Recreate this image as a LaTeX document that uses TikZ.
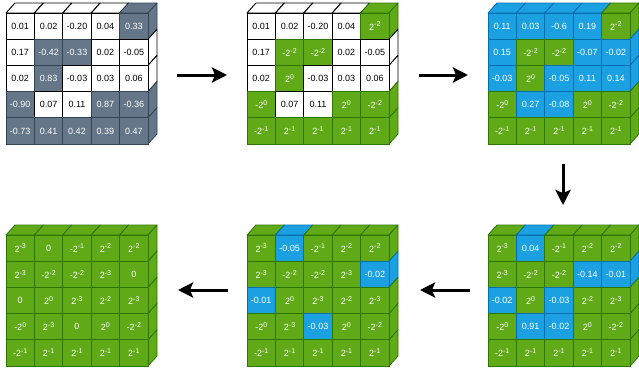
\documentclass[tikz,border=0pt]{standalone}
\usepackage{fontspec}
\setmainfont{Liberation Sans}
\usetikzlibrary{arrows.meta}

\definecolor{grayfill}{HTML}{647687}
\definecolor{graystroke}{HTML}{314354}
\definecolor{greenfill}{HTML}{60A917}
\definecolor{greenstroke}{HTML}{2D7600}
\definecolor{bluefill}{HTML}{1BA1E2}
\definecolor{bluestroke}{HTML}{006EAF}

% powers of two as printed in the cells
\newcommand\expo[1]{\raisebox{3.2pt}{\fontsize{7}{7}\selectfont #1}}
\newcommand\ptw[1]{2\expo{#1}}
\newcommand\ntw[1]{-2\expo{#1}}

% cell geometry: front face size and cube depth
\def\cw{28.4}
\def\ch{26.2}
\def\dx{9}
\def\dy{10}

\tikzset{
  stW/.style={draw=black, fill=white, text=black, line width=0.9pt},
  stG/.style={draw=graystroke, fill=grayfill, text=white, line width=0.8pt},
  stN/.style={draw=greenstroke, fill=greenfill, text=white, line width=0.8pt},
  stB/.style={draw=bluestroke, fill=bluefill, text=white, line width=0.8pt},
  cellbox/.style={anchor=north west, inner sep=0pt, outer sep=0pt,
    minimum width=\cw pt, minimum height=\ch pt,
    font=\fontsize{9}{10}\selectfont},
  flow/.style={line width=3pt, -{Stealth[length=15pt, width=15pt, inset=3pt]}},
}

% \cellgrid{name}{x0}{y0}{{row 1},{row 2},...}, each entry style/text
\newcommand\cellgrid[4]{%
  \foreach \row [count=\r] in {#4} {
    \foreach \s/\t [count=\c] in \row {
      \pgfmathsetmacro\xa{#2+(\c-1)*\cw}
      \pgfmathsetmacro\ya{#3+(\r-1)*\ch}
      \pgfmathsetmacro\xb{\xa+\cw}
      \pgfmathsetmacro\yb{\ya+\ch}
      \ifnum\r=1
        \draw[st\s, line join=round] (\xa,\ya) -- (\xa+\dx,\ya-\dy) -- (\xb+\dx,\ya-\dy) -- (\xb,\ya) -- cycle;
      \fi
      \ifnum\c=5
        \draw[st\s, line join=round] (\xb,\ya) -- (\xb+\dx,\ya-\dy) -- (\xb+\dx,\yb-\dy) -- (\xb,\yb) -- cycle;
      \fi
      \node[cellbox, st\s] (#1-\r-\c) at (\xa,\ya) {\t};
    }
  }
}

\begin{document}
\begin{tikzpicture}[x=1pt, y=-1pt]
\useasboundingbox (0,0) rectangle (639,372);

% raw weights
\cellgrid{wa}{6}{13}{
  {W/0.01, W/0.02, W/-0.20, W/0.04, G/0.33},
  {W/0.17, G/-0.42, G/-0.33, W/0.02, W/-0.05},
  {W/0.02, G/0.83, W/-0.03, W/0.03, W/0.06},
  {G/-0.90, W/0.07, W/0.11, G/0.87, G/-0.36},
  {G/-0.73, G/0.41, G/0.42, G/0.39, G/0.47}}

% first partition quantised
\cellgrid{wb}{247}{13}{
  {W/0.01, W/0.02, W/-0.20, W/0.04, N/\ptw{-2}},
  {W/0.17, N/\ntw{-2}, N/\ntw{-2}, W/0.02, W/-0.05},
  {W/0.02, N/\ptw{0}, W/-0.03, W/0.03, W/0.06},
  {N/\ntw{0}, W/0.07, W/0.11, N/\ptw{0}, N/\ntw{-2}},
  {N/\ntw{-1}, N/\ptw{-1}, N/\ptw{-1}, N/\ptw{-1}, N/\ptw{-1}}}

% remaining weights retrained
\cellgrid{wc}{488}{13}{
  {B/0.11, B/0.03, B/-0.6, B/0.19, N/\ptw{-2}},
  {B/0.15, N/\ntw{-2}, N/\ntw{-2}, B/-0.07, B/-0.02},
  {B/-0.03, N/\ptw{0}, B/-0.05, B/0.11, B/0.14},
  {N/\ntw{0}, B/0.27, B/-0.08, N/\ptw{0}, N/\ntw{-2}},
  {N/\ntw{-1}, N/\ptw{-1}, N/\ptw{-1}, N/\ptw{-1}, N/\ptw{-1}}}

% second step
\cellgrid{wd}{488}{235}{
  {N/\ptw{-3}, B/0.04, N/\ntw{-1}, N/\ptw{-2}, N/\ptw{-2}},
  {N/\ptw{-3}, N/\ntw{-2}, N/\ntw{-2}, B/-0.14, B/-0.01},
  {B/-0.02, N/\ptw{0}, B/-0.03, N/\ptw{-2}, N/\ptw{-3}},
  {N/\ntw{0}, B/0.91, B/-0.02, N/\ptw{0}, N/\ntw{-2}},
  {N/\ntw{-1}, N/\ptw{-1}, N/\ptw{-1}, N/\ptw{-1}, N/\ptw{-1}}}

% third step
\cellgrid{we}{247}{235}{
  {N/\ptw{-3}, B/-0.05, N/\ntw{-1}, N/\ptw{-2}, N/\ptw{-2}},
  {N/\ptw{-3}, N/\ntw{-2}, N/\ntw{-2}, N/\ptw{-3}, B/-0.02},
  {B/-0.01, N/\ptw{0}, N/\ptw{-3}, N/\ptw{-2}, N/\ptw{-3}},
  {N/\ntw{0}, N/\ptw{-3}, B/-0.03, N/\ptw{0}, N/\ntw{-2}},
  {N/\ntw{-1}, N/\ptw{-1}, N/\ptw{-1}, N/\ptw{-1}, N/\ptw{-1}}}

% fully quantised
\cellgrid{wf}{6}{235}{
  {N/\ptw{-3}, N/0, N/\ntw{-1}, N/\ptw{-2}, N/\ptw{-2}},
  {N/\ptw{-3}, N/\ntw{-2}, N/\ntw{-2}, N/\ptw{-3}, N/0},
  {N/0, N/\ptw{0}, N/\ptw{-3}, N/\ptw{-2}, N/\ptw{-3}},
  {N/\ntw{0}, N/\ptw{-3}, N/0, N/\ptw{0}, N/\ntw{-2}},
  {N/\ntw{-1}, N/\ptw{-1}, N/\ptw{-1}, N/\ptw{-1}, N/\ptw{-1}}}

% arrows between the stages
\coordinate (a1s) at (177,75);  \coordinate (a1e) at (227,75);
\coordinate (a2s) at (419,75);  \coordinate (a2e) at (468,75);
\coordinate (a3s) at (563,164); \coordinate (a3e) at (563,205);
\coordinate (a4s) at (470,290); \coordinate (a4e) at (420,290);
\coordinate (a5s) at (228,290); \coordinate (a5e) at (178,290);
\draw[flow] (a1s) -- (a1e);
\draw[flow] (a2s) -- (a2e);
\draw[flow] (a3s) -- (a3e);
\draw[flow] (a4s) -- (a4e);
\draw[flow] (a5s) -- (a5e);
\end{tikzpicture}
\end{document}
